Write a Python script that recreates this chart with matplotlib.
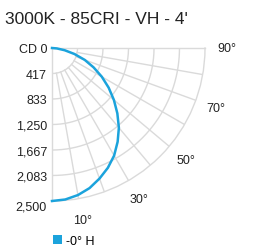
import numpy as np
import matplotlib.pyplot as plt
from matplotlib.patches import Patch
from matplotlib.transforms import offset_copy

plt.rcParams['font.family'] = ['Liberation Sans', 'DejaVu Sans']

title = "3000K - 85CRI - VH - 4'"
series_name = "-0° H"

# candela values, angle from nadir
angles = [0, 5, 10, 15, 20, 25, 30, 35, 40, 45, 50, 55, 60, 65, 70, 75, 80, 85, 90]
candela = [2500, 2485, 2440, 2370, 2270, 2160, 2030, 1870, 1700, 1510,
           1320, 1130, 940, 750, 570, 380, 210, 80, 0]

r_ticks = [0, 417, 833, 1250, 1667, 2083, 2500]
r_labels = ['CD 0', '417', '833', '1,250', '1,667', '2,083', '2,500']
grid_angles = [10, 20, 30, 40, 50, 60, 70, 80]
angle_labels = [10, 30, 50, 70, 90]

blue = '#1ba3dc'
grey = '#dadada'

fig = plt.figure(figsize=(2.57, 2.51), dpi=100)
ax = fig.add_axes([52 / 257, 1 - 202 / 251, 153 / 257, 153 / 251], projection='polar')
ax.set_theta_zero_location('S')
ax.set_theta_direction(1)
ax.set_thetamin(0)
ax.set_thetamax(90)
ax.set_rlim(0, r_ticks[-1])
ax.grid(False)
ax.set_xticks([])
ax.set_yticks([])
for s in ax.spines.values():
    s.set_color(grey)
    s.set_linewidth(1)

# grid: arcs and radial spokes starting at the first ring
th = np.radians(np.linspace(0, 90, 200))
for r in r_ticks[1:-1]:
    ax.plot(th, np.full_like(th, r), color=grey, lw=1, zorder=1)
for a in grid_angles:
    ax.plot([np.radians(a)] * 2, [r_ticks[1], r_ticks[-1]], color=grey, lw=1, zorder=1)

ax.plot(np.radians(angles), candela, color=blue, lw=1.8, clip_on=False, zorder=3,
        solid_joinstyle='round')

# radial labels on the left edge
for i, (r, lab) in enumerate(zip(r_ticks, r_labels)):
    dy = -6 if i == len(r_ticks) - 1 else -1
    trans = offset_copy(ax.transData, fig=fig, x=-5, y=dy, units='dots')
    ax.text(0, r, lab, transform=trans, ha='right', va='center', fontsize=9, color='#222222')

for a in angle_labels:
    ax.text(np.radians(a), r_ticks[-1] * 1.14, f'{a}°', ha='center', va='center',
            fontsize=9, color='#222222')

fig.text(5 / 257, 1 - 20 / 251, title, fontsize=12.5, va='center', color='#222222')

fig.legend(handles=[Patch(facecolor=blue, label=series_name)], loc='center left',
           bbox_to_anchor=(47 / 257, 1 - 242 / 251), frameon=False, fontsize=9,
           handlelength=0.7, handleheight=0.7, handletextpad=0.3, borderpad=0)

fig.savefig('out.png', dpi=100)
